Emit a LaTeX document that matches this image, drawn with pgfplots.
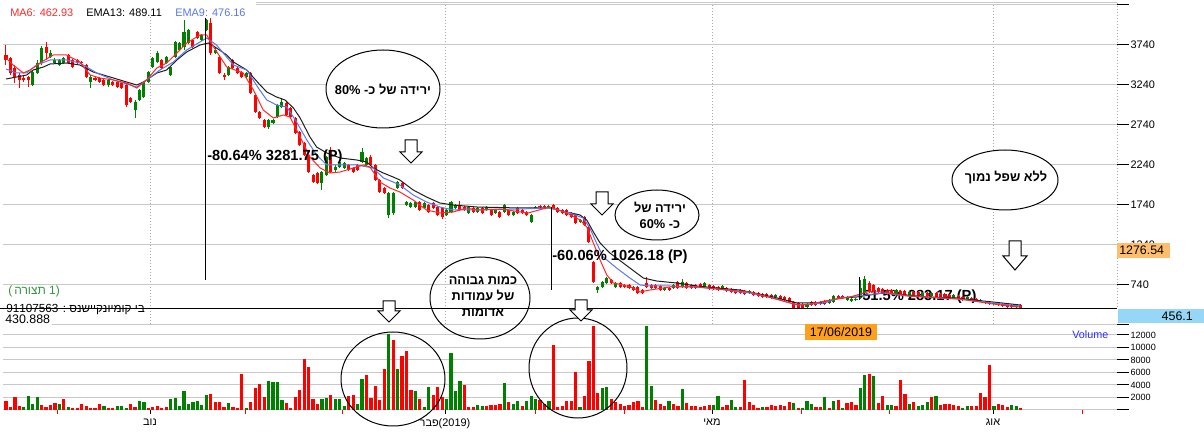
\documentclass[border=0pt]{standalone}
\usepackage{fontspec}
\setmainfont{Liberation Sans}
\newfontfamily\heb[Script=Hebrew]{Liberation Sans}
\usepackage{pgfplots}
\usepackage{pgfplotstable}
\pgfplotsset{compat=1.18}
\TeXXeTstate=1
\definecolor{cred}{RGB}{255,0,0}
\definecolor{cgreen}{RGB}{0,128,0}
\definecolor{mared}{RGB}{255,40,40}
\definecolor{emablue}{RGB}{90,120,235}
\definecolor{emablack}{RGB}{30,30,30}
\definecolor{gridgray}{RGB}{200,200,200}
\definecolor{dotgray}{RGB}{170,170,170}
\definecolor{boxorange}{RGB}{255,190,110}
\definecolor{boxblue}{RGB}{150,215,248}
\definecolor{dateorange}{RGB}{255,160,28}
\definecolor{volblue}{RGB}{45,45,255}
\definecolor{confgreen}{RGB}{50,150,60}

\pgfplotstableread{
i o h l c
0 3615 3740 3490 3552.5
1 3577.5 3590 3365 3390
2 3452.5 3490 3265 3340
3 3365 3390 3202.5 3302.5
4 3327.5 3352.5 3277.5 3302.5
5 3340 3352.5 3215 3302.5
6 3240 3427.5 3227.5 3402.5
7 3390 3552.5 3377.5 3515
8 3515 3727.5 3490 3702.5
9 3715 3777.5 3552.5 3640
10 3590 3677.5 3577.5 3640
11 3515 3577.5 3502.5 3552.5
12 3490 3565 3477.5 3552.5
13 3515 3590 3502.5 3577.5
14 3615 3627.5 3502.5 3515
15 3552.5 3565 3452.5 3465
16 3552.5 3565 3502.5 3515
17 3527.5 3540 3502.5 3515
18 3490 3502.5 3327.5 3340
19 3277.5 3365 3202.5 3340
20 3327.5 3340 3290 3302.5
21 3327.5 3340 3265 3277.5
22 3302.5 3315 3227.5 3240
23 3240 3315 3215 3302.5
24 3277.5 3290 3227.5 3240
25 3277.5 3290 3202.5 3215
26 3265 3277.5 3190 3202.5
27 3240 3265 2965 2990
28 3077.5 3090 3015 3027.5
29 2927.5 3052.5 2827.5 3027.5
30 3052.5 3190 3040 3177.5
31 3090 3290 3077.5 3277.5
32 3277.5 3415 3265 3402.5
33 3465 3590 3452.5 3577.5
34 3527.5 3665 3515 3640
35 3552.5 3565 3440 3452.5
36 3515 3602.5 3502.5 3590
37 3365 3477.5 3352.5 3465
38 3590 3790 3577.5 3777.5
39 3677.5 3777.5 3665 3765
40 3715 4052.5 3677.5 3902.5
41 3765 3940 3752.5 3927.5
42 3802.5 3815 3702.5 3715
43 3902.5 3915 3815 3827.5
44 3802.5 3877.5 3790 3865
45 3927.5 4065 3915 4052.5
46 4015 4077.5 3615 3640
47 3640 3702.5 3627.5 3677.5
48 3590 3602.5 3377.5 3390
49 3365 3390 3302.5 3340
50 3365 3477.5 3352.5 3465
51 3552.5 3565 3440 3452.5
52 3452.5 3465 3377.5 3390
53 3402.5 3415 3327.5 3340
54 3340 3402.5 3327.5 3390
55 3390 3402.5 3127.5 3140
56 3115 3127.5 2890 2902.5
57 2902.5 2915 2815 2827.5
58 2802.5 2815 2702.5 2715
59 2715 2815 2690 2802.5
60 2765 2815 2752.5 2802.5
61 2840 3002.5 2827.5 2990
62 2965 3077.5 2952.5 3027.5
63 3015 3027.5 2852.5 2865
64 2952.5 2965 2827.5 2840
65 2827.5 2840 2627.5 2640
66 2652.5 2665 2477.5 2490
67 2515 2527.5 2352.5 2365
68 2365 2377.5 2140 2152.5
69 2115 2127.5 2015 2027.5
70 2140 2152.5 2002.5 2015
71 2015 2165 1927.5 2152.5
72 2115 2352.5 2102.5 2340
73 2427.5 2465 2140 2152.5
74 2177.5 2240 2140 2215
75 2215 2290 2202.5 2277.5
76 2202.5 2277.5 2190 2265
77 2240 2252.5 2165 2177.5
78 2202.5 2215 2140 2152.5
79 2240 2252.5 2165 2177.5
80 2277.5 2452.5 2265 2402.5
81 2240 2340 2227.5 2327.5
82 2340 2365 2227.5 2240
83 2240 2252.5 2040 2052.5
84 2052.5 2065 1890 1902.5
85 1952.5 1965 1877.5 1890
86 1615 1902.5 1577.5 1890
87 1640 1902.5 1615 1890
88 1952.5 2040 1940 2027.5
89 2015 2027.5 1940 1952.5
90 1740 1790 1727.5 1777.5
91 1715 1777.5 1702.5 1765
92 1715 1790 1702.5 1777.5
93 1777.5 1790 1665 1677.5
94 1702.5 1777.5 1690 1765
95 1740 1752.5 1640 1652.5
96 1765 1777.5 1690 1702.5
97 1715 1727.5 1602.5 1615
98 1702.5 1715 1565 1590
99 1615 1690 1602.5 1677.5
100 1652.5 1790 1640 1777.5
101 1702.5 1752.5 1690 1740
102 1740 1790 1665 1677.5
103 1715 1727.5 1665 1677.5
104 1640 1727.5 1627.5 1715
105 1702.5 1715 1640 1652.5
106 1652.5 1715 1640 1702.5
107 1702.5 1715 1627.5 1640
108 1677.5 1727.5 1665 1715
109 1677.5 1690 1602.5 1615
110 1640 1690 1627.5 1677.5
111 1652.5 1665 1577.5 1590
112 1652.5 1752.5 1640 1740
113 1677.5 1690 1602.5 1615
114 1615 1665 1602.5 1652.5
115 1702.5 1715 1627.5 1640
116 1677.5 1690 1627.5 1640
117 1652.5 1665 1602.5 1615
118 1527.5 1627.5 1515 1615
119 1702.5 1727.5 1690 1715
120 1727.5 1740 1702.5 1715
121 1727.5 1740 1702.5 1715
122 1715 1740 1702.5 1727.5
123 1740 1752.5 1690 1702.5
124 1702.5 1715 1640 1652.5
125 1677.5 1690 1627.5 1640
126 1677.5 1690 1602.5 1615
127 1640 1652.5 1577.5 1590
128 1615 1627.5 1502.5 1515
129 1527.5 1565 1515 1552.5
130 1590 1602.5 1477.5 1490
131 1465 1477.5 1265 1277.5
132 1027.5 1040 765 777.5
133 677.5 727.5 640 715
134 715 790 702.5 777.5
135 765 840 752.5 827.5
136 802.5 815 752.5 765
137 715 777.5 702.5 765
138 765 777.5 702.5 715
139 740 752.5 702.5 715
140 740 752.5 690 702.5
141 715 727.5 665 677.5
142 715 727.5 627.5 640
143 677.5 690 627.5 640
144 765 840 702.5 715
145 740 752.5 690 702.5
146 740 752.5 690 702.5
147 727.5 740 665 677.5
148 677.5 715 665 702.5
149 702.5 715 665 677.5
150 702.5 752.5 690 740
151 777.5 790 690 702.5
152 715 815 702.5 777.5
153 765 777.5 690 702.5
154 740 752.5 690 702.5
155 740 752.5 690 702.5
156 752.5 765 702.5 715
157 715 777.5 702.5 765
158 740 752.5 677.5 690
159 727.5 740 677.5 690
160 715 727.5 665 677.5
161 690 740 677.5 727.5
162 702.5 715 652.5 665
163 690 702.5 640 652.5
164 677.5 690 627.5 640
165 677.5 690 627.5 640
166 665 677.5 615 627.5
167 640 677.5 627.5 665
168 652.5 665 602.5 615
169 640 652.5 590 602.5
170 627.5 640 577.5 590
171 627.5 640 577.5 590
172 615 627.5 565 577.5
173 590 627.5 577.5 615
174 602.5 615 552.5 565
175 590 602.5 540 552.5
176 577.5 590 515 527.5
177 527.5 540 427.5 452.5
178 515 527.5 440 452.5
179 502.5 515 440 452.5
180 465 515 452.5 502.5
181 527.5 540 477.5 490
182 527.5 540 477.5 490
183 527.5 540 490 502.5
184 540 552.5 490 502.5
185 515 565 502.5 552.5
186 527.5 615 515 602.5
187 602.5 615 565 577.5
188 602.5 615 565 577.5
189 552.5 602.5 540 590
190 540 577.5 527.5 565
191 552.5 577.5 540 565
192 577.5 802.5 565 702.5
193 652.5 852.5 640 815
194 765 790 640 652.5
195 740 752.5 652.5 665
196 702.5 715 640 652.5
197 690 702.5 627.5 640
198 677.5 690 615 627.5
199 677.5 690 627.5 640
200 627.5 690 615 677.5
201 665 677.5 615 627.5
202 665 677.5 602.5 615
203 602.5 665 590 652.5
204 652.5 665 602.5 615
205 652.5 665 590 602.5
206 602.5 652.5 590 640
207 640 652.5 590 602.5
208 602.5 652.5 590 640
209 640 652.5 577.5 590
210 627.5 640 577.5 590
211 627.5 640 565 577.5
212 615 627.5 565 577.5
213 577.5 627.5 565 615
214 602.5 615 552.5 565
215 590 602.5 540 552.5
216 565 602.5 552.5 590
217 577.5 590 540 552.5
218 565 577.5 527.5 540
219 540 565 527.5 552.5
220 515 540 502.5 527.5
221 527.5 540 490 502.5
222 502.5 527.5 490 515
223 515 527.5 477.5 490
224 502.5 515 465 477.5
225 502.5 515 452.5 465
226 490 502.5 452.5 465
227 465 502.5 452.5 490
228 490 502.5 445 456.1
}\candles

\pgfplotstableread{
i v g
0 1440 0
1 533 0
2 2027 0
3 640 0
4 533 1
5 2240 1
6 960 1
7 2027 1
8 800 0
9 533 0
10 747 0
11 1067 0
12 960 1
13 1760 0
14 427 1
15 373 0
16 373 0
17 960 0
18 640 0
19 373 0
20 373 0
21 960 0
22 640 1
23 373 0
24 373 0
25 640 1
26 640 1
27 373 1
28 960 0
29 427 0
30 1440 1
31 1227 1
32 373 0
33 427 0
34 640 0
35 373 0
36 400 0
37 1760 1
38 1973 1
39 640 1
40 3040 1
41 960 1
42 1227 1
43 1440 1
44 853 1
45 2400 1
46 2507 0
47 1227 0
48 1227 0
49 533 0
50 1067 1
51 480 0
52 373 0
53 5760 0
54 320 1
55 1280 0
56 3573 0
57 4160 0
58 2027 0
59 4693 1
60 4533 1
61 4533 1
62 1600 1
63 1120 0
64 373 0
65 2027 0
66 3200 0
67 8160 0
68 6933 0
69 1760 0
70 960 0
71 1813 1
72 1920 1
73 2347 0
74 1760 1
75 1760 1
76 640 1
77 2293 0
78 2400 0
79 907 1
80 4960 1
81 5600 0
82 1920 0
83 3840 0
84 1653 0
85 6560 0
86 12160 1
87 11200 0
88 6560 1
89 8640 0
90 9440 0
91 3200 0
92 3040 1
93 1813 0
94 427 1
95 3627 1
96 2347 0
97 3627 0
98 2133 0
99 1760 1
100 9173 1
101 3040 1
102 4640 1
103 4000 0
104 480 0
105 480 0
106 747 1
107 640 1
108 640 0
109 747 0
110 853 0
111 960 0
112 4320 1
113 1280 0
114 960 1
115 1440 1
116 640 0
117 1440 1
118 2240 1
119 1760 1
120 1653 0
121 960 0
122 1493 1
123 10400 0
124 533 0
125 640 0
126 1440 0
127 1440 0
128 6133 0
129 533 1
130 2240 0
131 7840 0
132 13500 0
133 2667 0
134 3573 1
135 3627 1
136 1760 0
137 1227 0
138 960 0
139 640 0
140 800 0
141 1333 0
142 1440 0
143 533 0
144 13440 1
145 3840 1
146 1600 0
147 960 0
148 640 0
149 1440 1
150 960 0
151 640 0
152 3360 1
153 1067 0
154 640 0
155 640 0
156 533 0
157 640 0
158 747 0
159 747 1
160 2240 1
161 480 0
162 747 0
163 1600 1
164 480 1
165 427 0
166 4800 0
167 1280 0
168 747 0
169 373 0
170 480 1
171 533 0
172 747 0
173 640 0
174 747 0
175 640 0
176 1280 0
177 1067 1
178 373 0
179 373 1
180 1440 1
181 960 1
182 427 0
183 480 0
184 2027 1
185 373 0
186 1493 1
187 1600 0
188 320 1
189 1173 0
190 1280 0
191 747 0
192 3573 1
193 5600 1
194 5760 0
195 5440 1
196 1173 0
197 2187 0
198 800 1
199 853 1
200 640 0
201 4800 0
202 2560 0
203 960 1
204 1280 0
205 640 1
206 747 1
207 1280 1
208 2027 0
209 2240 1
210 747 0
211 960 0
212 907 0
213 747 0
214 640 0
215 320 1
216 640 1
217 640 0
218 640 0
219 2667 0
220 2133 0
221 7200 0
222 640 1
223 907 0
224 800 0
225 480 0
226 800 1
227 640 1
228 267 0
}\volumes

\begin{document}
\begin{tikzpicture}
\path[use as bounding box] (0,0) rectangle (903pt,-325.5pt);
\begin{scope}[x=0.75pt,y=-0.75pt]
\fill[white] (0,0) rectangle (1204,434);
\foreach \xx in {150,445,712,993} {\draw[dotgray, line width=0.75pt, dash pattern=on 0.75pt off 1.5pt] (\xx,5) -- (\xx,325);}
\draw[dotgray, line width=0.75pt, dash pattern=on 0.75pt off 1.5pt] (1117.5,3) -- (1117.5,309);
\node[anchor=west, inner sep=0, font=\bfseries\fontsize{11}{12}\selectfont] at (862,297) {51.5\% 283.17 (P)};
\end{scope}

% ---------------- price panel ----------------
\begin{axis}[
  at={(2.25pt,-231.75pt)}, anchor=south west,
  scale only axis, width=835.5pt, height=228pt,
  xmin=-0.674, xmax=249.66, ymin=440, ymax=4240,
  clip=true,
  axis line style={draw=none},
  xtick=\empty,
  ytick={740,1240,1740,2240,2740,3240,3740,4240},
  yticklabels={740,1240,1740,2240,2740,3240,3740,{}},
  ytick pos=right, yticklabel pos=right,
  tick align=outside, major tick length=9pt,
  tick style={black, line width=0.75pt},
  ymajorgrids, grid style={gridgray, line width=0.75pt},
  yticklabel style={font=\fontsize{8.2}{9.5}\selectfont, inner sep=1pt},
]
% wicks
\addplot[draw=none, mark=none, forget plot,
  restrict expr to domain={\thisrow{c}-\thisrow{o}}{0:100000},
  error bars/.cd, y dir=plus, y explicit, error mark=none,
  error bar style={draw=cgreen, line width=0.75pt}]
  table[x=i, y=l, y error expr=\thisrow{h}-\thisrow{l}] {\candles};
\addplot[draw=none, mark=none, forget plot,
  restrict expr to domain={\thisrow{c}-\thisrow{o}}{-100000:-0.001},
  error bars/.cd, y dir=plus, y explicit, error mark=none,
  error bar style={draw=cred, line width=0.75pt}]
  table[x=i, y=l, y error expr=\thisrow{h}-\thisrow{l}] {\candles};
% bodies
\addplot[draw=none, mark=none, forget plot,
  restrict expr to domain={\thisrow{c}-\thisrow{o}}{0:100000},
  error bars/.cd, y dir=plus, y explicit, error mark=none,
  error bar style={draw=cgreen, line width=2.3pt}]
  table[x=i, y expr={min(\thisrow{o},\thisrow{c})}, y error expr={max(abs(\thisrow{c}-\thisrow{o}),10)}] {\candles};
\addplot[draw=none, mark=none, forget plot,
  restrict expr to domain={\thisrow{c}-\thisrow{o}}{-100000:-0.001},
  error bars/.cd, y dir=plus, y explicit, error mark=none,
  error bar style={draw=cred, line width=2.3pt}]
  table[x=i, y expr={min(\thisrow{o},\thisrow{c})}, y error expr={max(abs(\thisrow{c}-\thisrow{o}),10)}] {\candles};
% EMA13
\addplot[emablack, line width=0.75pt, mark=none] coordinates {
(0,3315) (2.4,3340) (4.65,3365) (6.1,3427.5) (8.4,3465) (9.9,3502.5) (13.6,3515) (16.6,3490) (19.6,3402.5) (23.4,3340) (27.1,3277.5) (29.4,3240) (30.9,3277.5) (33.9,3390) (36.1,3427.5) (38.4,3552.5) (40.6,3652.5) (43.6,3740) (45.5,3765) (47.3,3702.5) (49.6,3615) (51.1,3527.5) (54.1,3427.5) (56.7,3265) (58.6,3152.5) (60.8,3090) (62.7,3052.5) (64.6,2952.5) (66.1,2827.5) (68.3,2590) (69.8,2465) (72.1,2390) (75.1,2327.5) (78.8,2302.5) (81.1,2277.5) (82.5,2202.5) (84.8,2140) (87,2090) (88.5,2052.5) (91.5,1927.5) (94.5,1840) (97.5,1765) (100.5,1740) (105.8,1715) (115.5,1702.5) (122.2,1702.5) (126,1652.5) (129,1615) (130.5,1552.5) (132,1402.5) (133.5,1265) (135.7,1140) (138.7,1015) (141.7,890) (143.2,827.5) (146.2,790) (150.7,765) (155.2,727.5) (159.7,702.5) (164.9,677.5) (172.4,590) (177.8,515) (183.6,515) (187.4,577.5) (191.2,590) (197.1,640) (202.5,615) (207,590) (213.7,577.5) (217.3,552.5) (221.8,527.5) (228,489.11)};
% EMA9
\addplot[emablue, line width=0.75pt, mark=none] coordinates {
(0,3440) (2.4,3390) (4.65,3390) (6.9,3490) (9.9,3552.5) (13.6,3552.5) (16.6,3515) (20.4,3390) (24.1,3302.5) (27.9,3240) (29.4,3215) (31.6,3302.5) (34.6,3427.5) (37.6,3527.5) (40.6,3677.5) (43.6,3777.5) (45.1,3827.5) (47.3,3740) (51.1,3490) (54.1,3427.5) (56.7,3202.5) (58.6,3052.5) (60.8,2990) (63.1,2965) (65.3,2777.5) (67.6,2552.5) (69.8,2365) (72.1,2240) (78.8,2240) (82.5,2202.5) (84.8,2077.5) (87,2027.5) (88.5,1990) (91.5,1865) (94.5,1777.5) (97.5,1715) (100.5,1677.5) (105.8,1677.5) (115.5,1690) (122.2,1702.5) (126.7,1640) (129.7,1577.5) (131.2,1452.5) (132.7,1265) (134.2,1090) (137.2,952.5) (140.2,827.5) (142.5,740) (144.7,727.5) (149.2,727.5) (155.2,715) (159.7,690) (167.2,640) (172.4,577.5) (177.8,490) (183.6,515) (187.4,577.5) (191.2,602.5) (197.1,640) (202.5,602.5) (213.7,565) (221.8,515) (228,476.16)};
% MA6
\addplot[mared, line width=0.75pt, mark=none] coordinates {
(0,3577.5) (1.6,3490) (3.9,3390) (5.4,3427.5) (7.6,3515) (10.6,3615) (13.6,3615) (16.6,3527.5) (18.9,3365) (21.1,3327.5) (24.1,3302.5) (27.1,3265) (29.4,3202.5) (31.6,3302.5) (33.9,3452.5) (36.1,3515) (38.4,3640) (40.6,3765) (43.6,3865) (45.1,3865) (46.6,3720) (49.6,3465) (53.3,3390) (55.6,3177.5) (57.8,2927.5) (60.1,2827.5) (62.3,2865) (63.8,2840) (66.1,2590) (68.3,2340) (70.6,2202.5) (72.8,2140) (75.1,2152.5) (78,2202.5) (80.3,2240) (81.8,2215) (84,2027.5) (86.3,1952.5) (88.5,1902.5) (91.5,1802.5) (94.5,1677.5) (97.5,1640) (100.5,1652.5) (103.5,1702.5) (105.8,1677.5) (111,1690) (117.3,1640) (122.2,1715) (126,1640) (129,1552.5) (130.5,1465) (132,1265) (133.5,1052.5) (135,865) (136.5,765) (138.7,740) (141,702.5) (142.5,652.5) (144.7,677.5) (149.2,715) (155.2,715) (167.2,652.5) (176.2,515) (178.4,490) (180.7,502.5) (185.2,552.5) (189.7,590) (193.5,652.5) (197.1,652.5) (203.1,602.5) (214.4,565) (221.8,502.5) (228,462.93)};
\end{axis}

% ---------------- volume panel ----------------
\begin{axis}[
  at={(2.25pt,-307.5pt)}, anchor=south west,
  scale only axis, width=835.5pt, height=63.75pt,
  xmin=-0.674, xmax=249.66, ymin=0, ymax=13600,
  axis line style={draw=none},
  scaled y ticks=false,
  xtick={32.36,98.65,158.65,221.8},
  xticklabels={{\heb\beginR נוב\endR},{{\heb\beginR פבר\endR}(2019)},{\heb\beginR מאי\endR},{\heb\beginR אוג\endR}},
  xtick style={draw=none},
  xticklabel style={font=\fontsize{8.2}{9.5}\selectfont, yshift=6pt},
  ytick={2000,4000,6000,8000,10000,12000},
  yticklabels={2000,4000,6000,8000,10000,12000},
  extra y ticks={0,13600}, extra y tick labels={},
  extra y tick style={ymajorgrids},
  ytick pos=right, yticklabel pos=right,
  tick align=outside, major tick length=9pt,
  tick style={black, line width=0.75pt},
  ymajorgrids, grid style={gridgray, line width=0.75pt},
  yticklabel style={font=\fontsize{6.8}{8}\selectfont, inner sep=1pt},
]
\addplot[ycomb, cgreen, line width=2.4pt, mark=none,
  restrict expr to domain={\thisrow{g}}{1:1}] table[x=i, y=v] {\volumes};
\addplot[ycomb, cred, line width=2.4pt, mark=none,
  restrict expr to domain={\thisrow{g}}{0:0}] table[x=i, y=v] {\volumes};
\end{axis}

% ---------------- annotations ----------------
\begin{scope}[x=0.75pt,y=-0.75pt]
\draw[gridgray, line width=0.75pt] (0,2.5) -- (1117,2.5);
\fill[white] (0,0) rectangle (256,17);
\node[anchor=west, inner sep=0, text=mared, font=\fontsize{8.2}{9.5}\selectfont] at (10,12.5) {MA6: 462.93};
\node[anchor=west, inner sep=0, text=black, font=\fontsize{8.2}{9.5}\selectfont] at (86,12.5) {EMA13: 489.11};
\node[anchor=west, inner sep=0, text=emablue, font=\fontsize{8.2}{9.5}\selectfont] at (175,12.5) {EMA9: 476.16};
% measure lines
\draw[black, line width=0.75pt] (205,18) -- (205,280);
\draw[black, line width=0.75pt] (551,207) -- (551,290);
\draw[black, line width=0.75pt] (859,277) -- (859,300);
\node[anchor=west, inner sep=0, font=\bfseries\fontsize{11}{12}\selectfont] at (207,157) {-80.64\% 3281.75 (P)};
\node[anchor=west, inner sep=0, font=\bfseries\fontsize{11}{12}\selectfont] at (552,257) {-60.06\% 1026.18 (P)};
% left labels
\node[anchor=west, inner sep=0, text=confgreen, font=\fontsize{9}{10}\selectfont] at (8,291) {(\,{\heb\beginR תצורה\endR} 1)};
\node[anchor=west, inner sep=0, font=\fontsize{8.8}{10}\selectfont] at (6,310) {\heb\beginR בי קומיונקיישנס : \beginL 91107563\endL\endR};
\draw[black, line width=0.75pt] (0,309) -- (1117,309);
\fill[white] (0,313) rectangle (52,325);
\node[anchor=west, inner sep=0, font=\fontsize{9.3}{10}\selectfont] at (5,319) {430.888};
% ellipses
\draw[black, line width=0.75pt, fill=white] (383,89) ellipse [x radius=57, y radius=39];
\node[font=\heb\bfseries\fontsize{9.6}{12}\selectfont] at (383,89) {\beginR ירידה של כ- \beginL 80\%\endL\endR};
\draw[black, line width=0.75pt, fill=white] (657,215) ellipse [x radius=42, y radius=25];
\node[font=\heb\bfseries\fontsize{9.6}{12}\selectfont, align=center] at (660,215) {\beginR ירידה של\endR\\\beginR כ- \beginL 60\%\endL\endR};
\draw[black, line width=0.75pt, fill=white] (1005,180) ellipse [x radius=53, y radius=30];
\node[font=\heb\bfseries\fontsize{9.6}{12}\selectfont] at (1006,178) {\beginR ללא שפל נמוך\endR};
\draw[black, line width=0.75pt] (480,298) ellipse [x radius=50, y radius=41];
\node[font=\heb\bfseries\fontsize{9.6}{12}\selectfont, align=center] at (483,297) {\beginR כמות גבוהה\endR\\\beginR של עמודות\endR\\\beginR אדומות\endR};
\draw[black, line width=0.75pt] (393,379) ellipse [x radius=52, y radius=47];
\draw[black, line width=0.75pt] (578,368) ellipse [x radius=49, y radius=50];
% arrows
\draw[black, line width=0.75pt, fill=white] (405,140) -- (417,140) -- (417,152) -- (422,152) -- (411,163) -- (400,152) -- (405,152) -- cycle;
\draw[black, line width=0.75pt, fill=white] (596,192) -- (608,192) -- (608,204) -- (613,204) -- (602,215) -- (591,204) -- (596,204) -- cycle;
\draw[black, line width=0.75pt, fill=white] (1009,241) -- (1021,241) -- (1021,256) -- (1027,256) -- (1015,270) -- (1003,256) -- (1009,256) -- cycle;
\draw[black, line width=0.75pt, fill=white] (383,301) -- (395,301) -- (395,311) -- (400,311) -- (389,322) -- (378,311) -- (383,311) -- cycle;
\draw[black, line width=0.75pt, fill=white] (575,300) -- (587,300) -- (587,310) -- (592,310) -- (581,321) -- (570,310) -- (575,310) -- cycle;
% x ticks of the volume panel
\foreach \xx in {150,445,712,993} {\draw[black, line width=0.75pt] (\xx,410) -- (\xx,414);}
\foreach \xx in {57.5,245,342.5,535,624,801,889,1082} {\draw[cred, line width=0.75pt] (\xx,410) -- (\xx,414);}
% value boxes
\fill[boxorange] (1117,243) rectangle (1170,258);
\node[anchor=west, inner sep=0, font=\fontsize{9.3}{10}\selectfont] at (1119,250.5) {1276.54};
\fill[boxblue] (1118,309) rectangle (1204,323);
\node[anchor=east, inner sep=0, font=\fontsize{9.3}{10}\selectfont] at (1193,316) {456.1};
\fill[dateorange] (805,324) rectangle (877,340);
\node[inner sep=0, font=\fontsize{9.3}{10}\selectfont] at (841,332) {17/06/2019};
\node[anchor=west, inner sep=0, text=volblue, font=\fontsize{8.1}{9}\selectfont] at (1072,335) {Volume};
\end{scope}
\end{tikzpicture}
\end{document}
